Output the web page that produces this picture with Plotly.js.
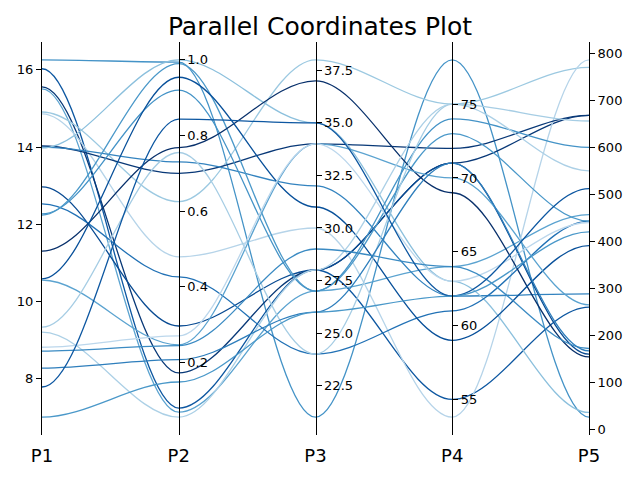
<!DOCTYPE html>
<html><head><meta charset="utf-8">
<script src="https://cdn.plot.ly/plotly-3.0.1.min.js"></script>
<style>html,body{margin:0;padding:0;background:#fff}</style>
</head><body><div id="chart" style="width:640px;height:480px"></div>
<script>
// Dimension names
const dims = ['P1', 'P2', 'P3', 'P4', 'P5'];
// Values of each line (23 lines) on each dimension
const p1 = [16.26, 16.03, 15.56, 15.51, 14.91, 14.86, 14.03, 14.00, 13.98, 12.97, 12.53, 12.27, 12.24, 11.31, 10.59, 10.56, 9.34, 9.21, 8.82, 8.72, 8.28, 7.79, 7.01];
const p2 = [0.994, 0.079, 0.172, 0.068, 0.625, 0.479, 0.700, 0.730, 1.000, 0.296, 0.426, 0.920, 0.990, 0.768, 0.954, 0.246, 0.755, 0.055, 0.270, 0.244, 0.207, 0.843, 0.148];
const p3 = [21, 28, 28, 27, 38, 30, 34, 32, 35, 28, 24, 27, 27, 37, 31, 34, 24, 28, 34, 29, 26, 35, 26];
const p4 = [78, 55, 71, 64, 75, 53.8, 72, 62, 63, 71, 61, 74, 73, 69, 59, 70, 75, 75, 63, 64, 71, 62, 62];
const p5 = [26, 260, 668, 457, 770, 786, 668, 288, 36, 160, 443, 600, 443, 154, 391, 265, 656, 550, 440, 172, 167, 512, 420];
// Colour variable of each line (position in the Blues colormap)
const colorVal = [0.62, 0.85, 0.97, 0.55, 0.38, 0.30, 0.97, 0.68, 0.42, 0.90, 0.75, 0.62, 0.60, 1.00, 0.88, 0.55, 0.35, 0.33, 0.28, 0.65, 0.70, 0.85, 0.60];

const cols = [p1, p2, p3, p4, p5];

// Blues colormap
const BLUES = [[0,'#f7fbff'],[0.125,'#deebf7'],[0.25,'#c6dbef'],[0.375,'#9ecae1'],[0.5,'#6baed6'],[0.625,'#4292c6'],[0.75,'#2171b5'],[0.875,'#08519c'],[1,'#08306b']];
function hex2rgb(h){return [parseInt(h.substr(1,2),16),parseInt(h.substr(3,2),16),parseInt(h.substr(5,2),16)];}
function blues(t){
  t = Math.max(0, Math.min(1, t));
  for (let i = 1; i < BLUES.length; i++) {
    if (t <= BLUES[i][0]) {
      const a = BLUES[i-1], b = BLUES[i];
      const f = (t - a[0]) / (b[0] - a[0]);
      const ca = hex2rgb(a[1]), cb = hex2rgb(b[1]);
      const c = ca.map((v, j) => Math.round(v + (cb[j] - v) * f));
      return 'rgb(' + c.join(',') + ')';
    }
  }
  return BLUES[BLUES.length-1][1];
}

// Axis ranges: data min/max padded by 5% (as in the reference)
const ranges = cols.map(c => {
  const lo = Math.min(...c), hi = Math.max(...c), d = hi - lo;
  return [lo - 0.05 * d, hi + 0.05 * d];
});
const host = ranges[0];
// map a value of dimension k onto the host (P1) axis scale
function toHost(v, k) {
  const r = ranges[k];
  return host[0] + (v - r[0]) / (r[1] - r[0]) * (host[1] - host[0]);
}

// One trace per dimension carries the values on its own axis (registers the axes)
const traces = cols.map((c, k) => ({
  type: 'scatter',
  mode: 'markers',
  x: c.map(() => k),
  y: c,
  yaxis: k === 0 ? 'y' : 'y' + (k + 1),
  marker: { size: 1, opacity: 0 },
  hoverinfo: 'skip',
  showlegend: false
}));

// Each observation drawn as a cubic Bezier curve in data coordinates (x = dim index, y = host scale)
const shapes = p1.map((_, i) => {
  const ys = cols.map((c, k) => toHost(c[i], k));
  let d = 'M 0,' + ys[0];
  for (let k = 0; k < ys.length - 1; k++) {
    d += ' C ' + (k + 1/3) + ',' + ys[k] + ' ' + (k + 2/3) + ',' + ys[k+1] + ' ' + (k + 1) + ',' + ys[k+1];
  }
  return {
    type: 'path', xref: 'x', yref: 'y', path: d, layer: 'below',
    line: { color: blues(colorVal[i]), width: 1.3 }
  };
});

const font = { family: 'DejaVu Sans, sans-serif', size: 13, color: '#000' };
function yax(k, extra) {
  const base = {
    range: ranges[k],
    showgrid: false, zeroline: false,
    showline: true, linecolor: '#000', linewidth: 1,
    ticks: 'outside', ticklen: 5, tickwidth: 1, tickcolor: '#000',
    tickfont: font, fixedrange: true
  };
  return Object.assign(base, extra);
}

const layout = {
  width: 640, height: 480,
  paper_bgcolor: '#fff', plot_bgcolor: 'rgba(0,0,0,0)',
  margin: { l: 42, r: 51, t: 42, b: 45 },
  title: { text: 'Parallel Coordinates Plot', font: { family: 'DejaVu Sans, sans-serif', size: 25, color: '#000' }, x: 0.5, xanchor: 'center', y: 0.945, yanchor: 'middle' },
  xaxis: {
    range: [0, 4], tickvals: [0, 1, 2, 3, 4], ticktext: dims,
    showgrid: false, zeroline: false, showline: false, ticks: '',
    tickfont: { family: 'DejaVu Sans, sans-serif', size: 18, color: '#000' },
    ticklabelstandoff: 8, fixedrange: true
  },
  yaxis: yax(0, { side: 'left', dtick: 2 }),
  yaxis2: yax(1, { overlaying: 'y', anchor: 'free', position: 0.25, side: 'right', dtick: 0.2, tickformat: '.1f' }),
  yaxis3: yax(2, { overlaying: 'y', anchor: 'free', position: 0.5, side: 'right', dtick: 2.5, tick0: 0, tickformat: '.1f' }),
  yaxis4: yax(3, { overlaying: 'y', anchor: 'free', position: 0.75, side: 'right', dtick: 5 }),
  yaxis5: yax(4, { overlaying: 'y', anchor: 'free', position: 1.0, side: 'right', dtick: 100 }),
  shapes: shapes
};

Plotly.newPlot('chart', traces, layout, { displayModeBar: false, staticPlot: true });
</script>
</body></html>
